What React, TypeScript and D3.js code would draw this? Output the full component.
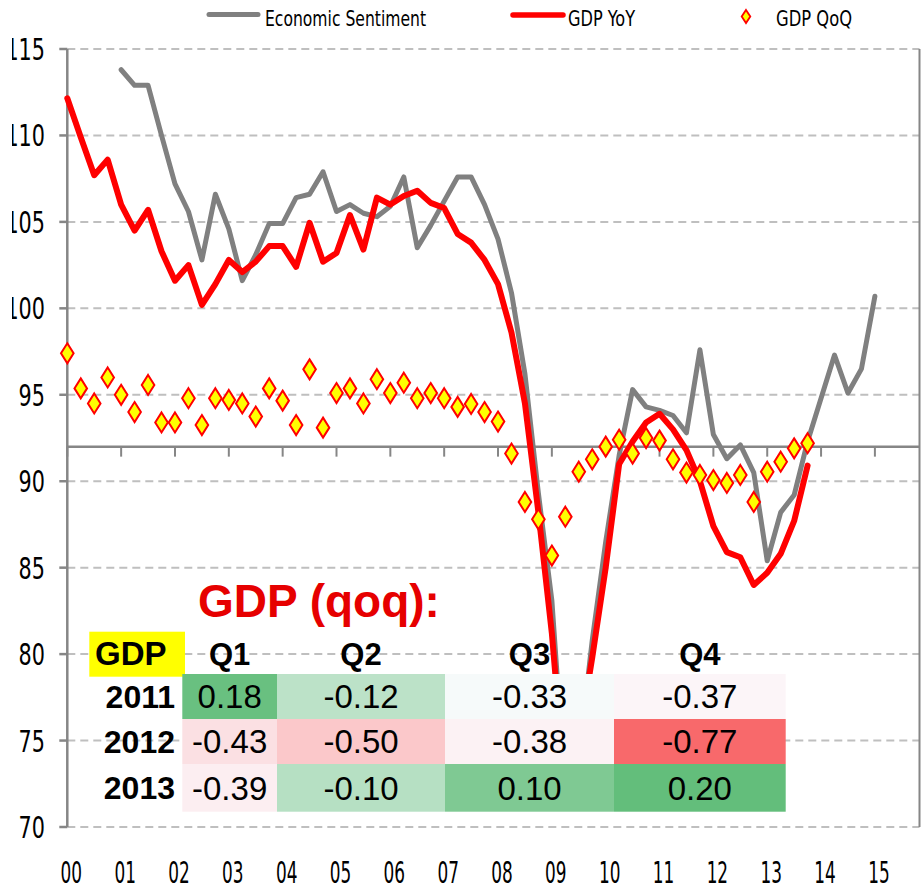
import React from "react";
import * as d3 from "d3";

// ---------- data ----------
const xTickLabels = ["00","01","02","03","04","05","06","07","08","09","10","11","12","13","14","15"];
const yTickValues = [70, 75, 80, 85, 90, 95, 100, 105, 110, 115];

// quarterly series, index 0 = 2000 Q1
const sentimentStartQuarter = 4; // 2001 Q1
const sentimentValues = [
  113.8, 112.9, 112.9, 110.0, 107.2, 105.6, 102.8, 106.6, 104.6, 101.6,
  103.1, 104.9, 104.9, 106.4, 106.6, 107.9, 105.6, 106.0, 105.5, 105.3,
  105.9, 107.6, 103.5, 104.8, 106.2, 107.6, 107.6, 106.0, 104.0, 100.9,
  96.2, 89.3, 83.1, 72.0, 74.0, 80.8, 86.5, 91.5, 95.3, 94.3,
  94.1, 93.8, 92.8, 97.6, 92.7, 91.3, 92.1, 90.5, 85.4, 88.2,
  89.2, 92.3, 94.8, 97.3, 95.1, 96.5, 100.7,
];

const gdpYoYStartQuarter = 0;
const gdpYoYValues = [
  112.15, 109.9, 107.7, 108.6, 106.0, 104.5, 105.7, 103.3, 101.6, 102.5,
  100.2, 101.4, 102.8, 102.1, 102.7, 103.6, 103.6, 102.4, 104.95, 102.7,
  103.2, 105.4, 103.4, 106.4, 106.0, 106.5, 106.8, 106.1, 105.8, 104.3,
  103.8, 102.8, 101.4, 98.6, 94.5, 88.2, 81.2, 72.0, 75.0, 79.8,
  85.0, 91.0, 92.3, 93.4, 93.9, 93.0, 91.8, 90.0, 87.4, 85.9,
  85.6, 84.0, 84.7, 85.8, 87.7, 90.9,
];

const gdpQoQStartQuarter = 0;
const gdpQoQValues = [
  97.4, 95.37, 94.5, 96.0, 95.0, 94.0, 95.57, 93.4, 93.4, 94.8,
  93.25, 94.8, 94.7, 94.5, 93.74, 95.37, 94.66, 93.25, 96.47, 93.1,
  95.1, 95.37, 94.5, 95.9, 95.1, 95.7, 94.8, 95.1, 94.8, 94.3,
  94.47, 94.0, 93.45, 91.6, 88.8, 87.8, 85.7, 87.95, 90.55, 91.27,
  92.0, 92.4, 91.6, 92.5, 92.35, 91.27, 90.5, 90.36, 90.07, 89.9,
  90.36, 88.8, 90.55, 91.13, 91.9, 92.2,
];

const legendLabels = ["Economic Sentiment", "GDP YoY", "GDP QoQ"];

const tableTitle = "GDP (qoq):";
const tableCorner = "GDP";
const tableQuarters = ["Q1", "Q2", "Q3", "Q4"];
const tableYears = ["2011", "2012", "2013"];
const tableValues = [
  [0.18, -0.12, -0.33, -0.37],
  [-0.43, -0.5, -0.38, -0.77],
  [-0.39, -0.1, 0.1, 0.2],
];

// ---------- layout ----------
const W = 921;
const H = 889;
const plotLeft = 67.3;
const plotRight = 919.5;
const plotTop = 49;
const plotBottom = 827;
const axisCrossValue = 92;

const narrow = "'Liberation Sans Narrow','DejaVu Sans Condensed','Liberation Sans',Arial,sans-serif";
const arial = "'Liberation Sans',Arial,Helvetica,sans-serif";

const axisColor = "#868686";
const gridColor = "#bfbfbf";
const grayLine = "#808080";
const redLine = "#ff0000";

function diamondPath(hw: number, hh: number) {
  const p = d3.path();
  p.moveTo(0, -hh);
  p.lineTo(hw, 0);
  p.lineTo(0, hh);
  p.lineTo(-hw, 0);
  p.closePath();
  return p.toString();
}

export default function App() {
  const x = d3.scaleLinear().domain([0, 60]).range([plotLeft, 874.9]);
  const y = d3.scaleLinear().domain([70, 115]).range([plotBottom, plotTop]);

  const line = d3
    .line<[number, number]>()
    .x((d) => x(d[0]))
    .y((d) => y(d[1]));

  const sentimentPts: [number, number][] = sentimentValues.map((v, i) => [i + sentimentStartQuarter, v]);
  const yoyPts: [number, number][] = gdpYoYValues.map((v, i) => [i + gdpYoYStartQuarter, v]);
  const qoqPts: [number, number][] = gdpQoQValues.map((v, i) => [i + gdpQoQStartQuarter, v]);

  const diamond = diamondPath(6.3, 10);
  const legendDiamond = diamondPath(4.3, 6.5);

  const yAxisY = y(axisCrossValue);

  // table layout
  const colEdges = [182.3, 277, 445, 614, 785.7];
  const rowEdges = [674, 719, 764, 811.7];
  const flat = tableValues.flat();
  const color = d3
    .scaleLinear<string>()
    .domain([d3.min(flat) as number, d3.median(flat) as number, d3.max(flat) as number])
    .range(["#F8696B", "#FCFCFF", "#63BE7B"]);

  return (
    <svg
      width={W}
      height={H}
      viewBox={`0 0 ${W} ${H}`}
      style={{ position: "absolute", left: 0, top: 0, display: "block", background: "#fff" }}
    >
      <defs>
        <clipPath id="labelClip">
          <rect x={12} y={0} width={W} height={H} />
        </clipPath>
        <clipPath id="plotClip">
          <rect x={plotLeft - 10} y={plotTop - 10} width={plotRight - plotLeft + 10} height={plotBottom - plotTop + 20} />
        </clipPath>
      </defs>
      <rect x={0} y={0} width={W} height={H} fill="#fff" />

      {/* gridlines */}
      {yTickValues.map((v) => (
        <line
          key={"g" + v}
          x1={plotLeft}
          x2={plotRight}
          y1={y(v)}
          y2={y(v)}
          stroke={gridColor}
          strokeWidth={2}
          strokeDasharray="8,5"
        />
      ))}

      {/* y axis */}
      <line x1={plotLeft} x2={plotLeft} y1={plotTop} y2={plotBottom} stroke={axisColor} strokeWidth={2.5} />
      {yTickValues.map((v) => (
        <line key={"yt" + v} x1={plotLeft - 8} x2={plotLeft} y1={y(v)} y2={y(v)} stroke={axisColor} strokeWidth={2.5} />
      ))}
      <g clipPath="url(#labelClip)">
        {yTickValues.map((v) => {
          const s = String(v);
          return (
            <text
              key={"yl" + v}
              x={45}
              y={y(v) + 11}
              textAnchor="end"
              fontFamily={narrow}
              fontSize={30}
              fill="#000"
              textLength={s.length * 13.2}
              lengthAdjust="spacingAndGlyphs"
            >
              {s}
            </text>
          );
        })}
      </g>

      {/* right border */}
      <line x1={plotRight} x2={plotRight} y1={plotTop} y2={plotBottom} stroke={axisColor} strokeWidth={2} />

      {/* x axis crossing at 92 */}
      <line x1={plotLeft} x2={plotRight} y1={yAxisY} y2={yAxisY} stroke={axisColor} strokeWidth={2.5} />
      {xTickLabels.map((lab, i) => (
        <line
          key={"xt" + lab}
          x1={x(i * 4)}
          x2={x(i * 4)}
          y1={yAxisY}
          y2={yAxisY + 10}
          stroke={axisColor}
          strokeWidth={2}
        />
      ))}
      {xTickLabels.map((lab, i) => (
        <text
          key={"xl" + lab}
          x={x(i * 4) + 4}
          y={883}
          textAnchor="middle"
          fontFamily={narrow}
          fontSize={30}
          fill="#000"
          textLength={21.5}
          lengthAdjust="spacingAndGlyphs"
        >
          {lab}
        </text>
      ))}

      {/* series */}
      <g clipPath="url(#plotClip)">
        <path
          d={line(sentimentPts) as string}
          fill="none"
          stroke={grayLine}
          strokeWidth={5}
          strokeLinejoin="round"
          strokeLinecap="round"
        />
        <path
          d={line(yoyPts) as string}
          fill="none"
          stroke={redLine}
          strokeWidth={6}
          strokeLinejoin="round"
          strokeLinecap="round"
        />
        {qoqPts.map((p, i) => (
          <path
            key={"d" + i}
            d={diamond}
            transform={`translate(${x(p[0])},${y(p[1])})`}
            fill="#ffff00"
            stroke="#ff0000"
            strokeWidth={2}
          />
        ))}
      </g>

      {/* table */}
      <text x={198} y={617} fontFamily={arial} fontWeight="bold" fontSize={46} fill="#e60000">
        {tableTitle}
      </text>
      <rect x={89.3} y={631.7} width={95.7} height={45} fill="#ffff00" />
      <text x={95} y={665} fontFamily={arial} fontWeight="bold" fontSize={33} fill="#000">
        {tableCorner}
      </text>
      {tableQuarters.map((q, j) => (
        <text
          key={"q" + q}
          x={(colEdges[j] + colEdges[j + 1]) / 2}
          y={664.5}
          textAnchor="middle"
          fontFamily={arial}
          fontWeight="bold"
          fontSize={31}
          fill="#000"
        >
          {q}
        </text>
      ))}
      {tableValues.map((row, i) => (
        <g key={"r" + i}>
          {row.map((v, j) => (
            <rect
              key={"c" + j}
              x={colEdges[j]}
              y={rowEdges[i]}
              width={colEdges[j + 1] - colEdges[j]}
              height={rowEdges[i + 1] - rowEdges[i]}
              fill={color(v)}
            />
          ))}
          <text
            x={175}
            y={(rowEdges[i] + rowEdges[i + 1]) / 2 + 11.5}
            textAnchor="end"
            fontFamily={arial}
            fontWeight="bold"
            fontSize={32}
            fill="#000"
          >
            {tableYears[i]}
          </text>
          {row.map((v, j) => (
            <text
              key={"t" + j}
              x={(colEdges[j] + colEdges[j + 1]) / 2}
              y={(rowEdges[i] + rowEdges[i + 1]) / 2 + 11.8}
              textAnchor="middle"
              fontFamily={arial}
              fontSize={33}
              fill="#000"
            >
              {v.toFixed(2)}
            </text>
          ))}
        </g>
      ))}

      {/* legend */}
      <line x1={209} x2={258} y1={14.5} y2={14.5} stroke={grayLine} strokeWidth={5} strokeLinecap="round" />
      <text x={265} y={26} fontFamily={narrow} fontSize={22} fill="#000" textLength={161} lengthAdjust="spacingAndGlyphs">
        {legendLabels[0]}
      </text>
      <line x1={513} x2={563} y1={15} y2={15} stroke={redLine} strokeWidth={5.5} strokeLinecap="round" />
      <text x={568} y={26} fontFamily={narrow} fontSize={22} fill="#000" textLength={67} lengthAdjust="spacingAndGlyphs">
        {legendLabels[1]}
      </text>
      <path d={legendDiamond} transform="translate(746,16.5)" fill="#ffff00" stroke="#ff0000" strokeWidth={1.8} />
      <text x={776} y={26} fontFamily={narrow} fontSize={22} fill="#000" textLength={76} lengthAdjust="spacingAndGlyphs">
        {legendLabels[2]}
      </text>
    </svg>
  );
}
